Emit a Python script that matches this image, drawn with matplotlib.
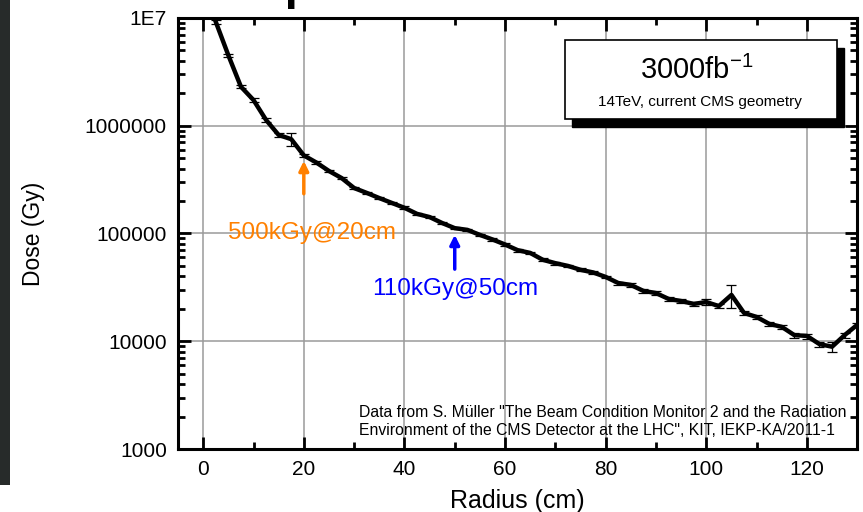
import numpy as np
import matplotlib
matplotlib.use("Agg")
import matplotlib.pyplot as plt
from matplotlib.ticker import FixedLocator, LogLocator, NullFormatter, MultipleLocator

plt.rcParams['font.family'] = ['Liberation Sans', 'DejaVu Sans']

# ---------------- data ----------------
radius = [2.5, 5, 7.5, 10, 12.5, 15, 17.5, 20, 22.5, 25, 27.5, 30, 32.5, 35,
          37.5, 40, 42.5, 45, 47.5, 50, 52.5, 55, 57.5, 60, 62.5, 65, 67.5,
          70, 72.5, 75, 77.5, 80, 82.5, 85, 87.5, 90, 92.5, 95, 97.5, 100,
          102.5, 105, 107.5, 110, 112.5, 115, 117.5, 120, 122.5, 125, 127.5, 130]
dose = [9.2e6, 4.5e6, 2.3e6, 1.73e6, 1.13e6, 8.2e5, 7.5e5, 5.3e5, 4.55e5, 3.8e5,
        3.27e5, 2.64e5, 2.38e5, 2.13e5, 1.92e5, 1.73e5, 1.52e5, 1.42e5, 1.25e5,
        1.12e5, 1.08e5, 9.7e4, 8.8e4, 7.9e4, 7.0e4, 6.6e4, 5.7e4, 5.3e4, 5.0e4,
        4.6e4, 4.35e4, 3.95e4, 3.47e4, 3.33e4, 2.93e4, 2.8e4, 2.47e4, 2.36e4,
        2.22e4, 2.31e4, 2.12e4, 2.69e4, 1.83e4, 1.68e4, 1.45e4, 1.36e4, 1.14e4,
        1.12e4, 9.4e3, 8.9e3, 1.14e4, 1.42e4]
dose_err = [4e5, 1.5e5, 8e4, 6e4, 4e4, 3e4, 1.0e5, 2e4, 1.5e4, 1.2e4,
            1e4, 8e3, 7e3, 6e3, 5e3, 5e3, 4e3, 4e3, 3.5e3,
            3e3, 3e3, 2.5e3, 2.5e3, 2.2e3, 2e3, 2e3, 1.8e3, 1.6e3, 1.5e3,
            1.4e3, 1.3e3, 1.2e3, 1.1e3, 1.1e3, 1e3, 1e3, 1e3, 1e3,
            1e3, 1.4e3, 1e3, 6.5e3, 9e2, 8e2, 7e2, 7e2, 6e2,
            6e2, 5e2, 9e2, 6e2, 6e2]

ytick_vals = [1e3, 1e4, 1e5, 1e6, 1e7]
ytick_labels = ["1000", "10000", "100000", "1000000", "1E7"]
xtick_vals = [0, 20, 40, 60, 80, 100, 120]

# ---------------- figure ----------------
fig = plt.figure(figsize=(8.63, 5.12), dpi=100)
ax = fig.add_axes([0.2063, 0.123, 0.787, 0.842])

ax.errorbar(radius, dose, yerr=dose_err, color='black', lw=3.2,
            elinewidth=0.9, capsize=3.5, capthick=0.9, zorder=3)

ax.set_yscale('log')
ax.set_xlim(-5, 130)
ax.set_ylim(1e3, 1e7)

ax.yaxis.set_major_locator(FixedLocator(ytick_vals))
ax.set_yticklabels(ytick_labels)
ax.yaxis.set_minor_locator(LogLocator(base=10, subs=np.arange(2, 10)))
ax.yaxis.set_minor_formatter(NullFormatter())
ax.xaxis.set_major_locator(FixedLocator(xtick_vals))
ax.xaxis.set_minor_locator(MultipleLocator(10))

ax.tick_params(which='both', direction='in', top=True, right=True,
               labelsize=15, pad=8, width=2)
ax.tick_params(which='major', length=9)
ax.tick_params(which='minor', length=5)

ax.grid(True, which='major', color='#9a9a9a', lw=1.1, zorder=0)
for side in ['left', 'bottom', 'right', 'top']:
    ax.spines[side].set_linewidth(2.2)

ax.set_xlabel('Radius (cm)', fontsize=18, labelpad=7)
ax.set_ylabel('Dose (Gy)', fontsize=16.5, labelpad=29)

# annotations
ax.annotate('', xy=(20, 5.0e5), xytext=(20, 2.2e5),
            arrowprops=dict(arrowstyle='-|>', color='#ff8000', lw=2.5,
                            mutation_scale=14))
ax.text(21.6, 1.0e5, '500kGy@20cm', color='#ff8000', fontsize=17.5,
        ha='center', va='center')
ax.annotate('', xy=(50, 1.03e5), xytext=(50, 4.4e4),
            arrowprops=dict(arrowstyle='-|>', color='#0000ff', lw=2.5,
                            mutation_scale=14))
ax.text(50.1, 3.05e4, '110kGy@50cm', color='#0000ff', fontsize=17.5,
        ha='center', va='center')

# box with shadow
shadow = plt.Rectangle((0.6545 + 0.0085, 0.7675 - 0.0155), 0.315, 0.154,
                       transform=fig.transFigure, fc='black', ec='black', zorder=4)
box = plt.Rectangle((0.6545, 0.7675), 0.315, 0.154,
                    transform=fig.transFigure, fc='white', ec='black', lw=1.2, zorder=5)
fig.patches.extend([shadow, box])
fig.text(0.807, 0.863, r'3000fb$^{\mathregular{-1}}$', fontsize=21,
         ha='center', va='center', zorder=6)
fig.text(0.8115, 0.801, '14TeV, current CMS geometry', fontsize=11,
         ha='center', va='center', zorder=6)

# source note
ax.text(0.2666, 0.064, 'Data from S. Müller "The Beam Condition Monitor 2 and the Radiation\n'
        'Environment of the CMS Detector at the LHC", KIT, IEKP-KA/2011-1',
        transform=ax.transAxes, fontsize=11.3, ha='left', va='center',
        linespacing=1.2)

# cropped slide title and dark slide edge
fig.text(0.557, 1 + 1 / 512, 'Expected dose at CMS', fontsize=34,
         ha='center', va='baseline', fontweight='bold')
fig.patches.append(plt.Rectangle((0, 0.053), 0.0115, 0.947,
                                 transform=fig.transFigure,
                                 fc='#272b2a', ec='none'))

fig.savefig('out.png', dpi=100)
